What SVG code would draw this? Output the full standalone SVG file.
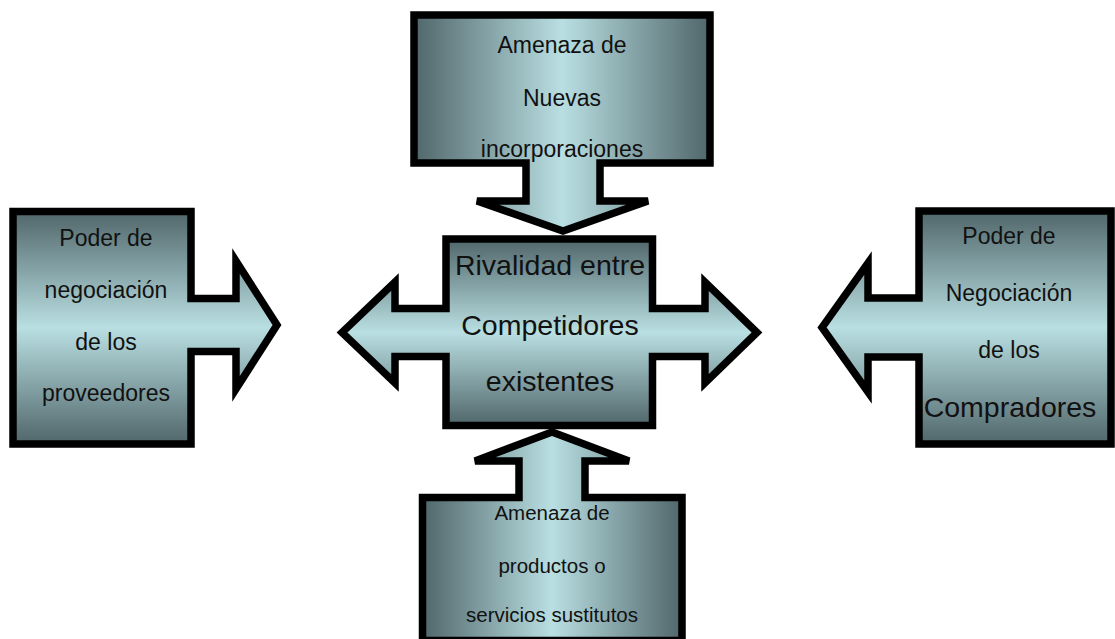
<svg xmlns="http://www.w3.org/2000/svg" width="1115" height="639" viewBox="0 0 1115 639">
  <defs>
    <linearGradient id="gH" x1="0" y1="0" x2="1" y2="0">
      <stop offset="0" stop-color="#50666a"/>
      <stop offset="0.5" stop-color="#b9dfe2"/>
      <stop offset="1" stop-color="#50666a"/>
    </linearGradient>
    <linearGradient id="gV" x1="0" y1="0" x2="0" y2="1">
      <stop offset="0" stop-color="#50666a"/>
      <stop offset="0.5" stop-color="#b9dfe2"/>
      <stop offset="1" stop-color="#50666a"/>
    </linearGradient>
    <style>
      .shape { stroke: #000; stroke-width: 7.5; stroke-linejoin: miter; }
      .h { fill: url(#gH); }
      .v { fill: url(#gV); }
      text { font-family: "Liberation Sans", Arial, sans-serif; fill: #111; text-anchor: middle; }
      .t23 { font-size: 23px; }
      .t28 { font-size: 28.5px; }
      .t20 { font-size: 20.5px; }
    </style>
  </defs>
  <g id="connectors"></g>
  <g id="nuevas">
    <path class="shape h" d="M414,15 H710 V163 H600 V201 H648 L563,231 L477,201 H526 V163 H414 Z"/>
    <text class="t23" x="562" y="53">Amenaza de</text>
    <text class="t23" x="562" y="106">Nuevas</text>
    <text class="t23" x="562" y="157">incorporaciones</text>
  </g>
  <g id="proveedores">
    <path class="shape v" d="M13,211.5 H191 V298.5 H236 V261 L277,325 L236,389 V351.5 H191 V444 H13 Z"/>
    <text class="t23" x="106" y="246">Poder de</text>
    <text class="t23" x="106" y="298">negociación</text>
    <text class="t23" x="106" y="350">de los</text>
    <text class="t23" x="106" y="401">proveedores</text>
  </g>
  <g id="rivalidad">
    <path class="shape v" d="M446,239 H652.5 V308.5 H705 V282 L757,332.5 L705,383 V356.5 H652.5 V425.5 H446 V356.5 H395 V383 L342,332.5 L395,282 V308.5 H446 Z"/>
    <text class="t28" x="550" y="275">Rivalidad entre</text>
    <text class="t28" x="550" y="335">Competidores</text>
    <text class="t28" x="550" y="391">existentes</text>
  </g>
  <g id="compradores">
    <path class="shape v" d="M919,211 H1111 V444 H919 V357 H868 V392 L822,327.5 L868,263 V298 H919 Z"/>
    <text class="t23" x="1009" y="244">Poder de</text>
    <text class="t23" x="1009" y="301">Negociación</text>
    <text class="t23" x="1009" y="358">de los</text>
    <text class="t28" x="1010" y="417">Compradores</text>
  </g>
  <g id="sustitutos">
    <path class="shape h" d="M422.5,497.5 H519 V461 H475 L552,432 L629,461 H585 V497.5 H682 V640.5 H422.5 Z"/>
    <text class="t20" x="552" y="520">Amenaza de</text>
    <text class="t20" x="552" y="573">productos o</text>
    <text class="t20" x="552" y="622">servicios sustitutos</text>
  </g>
</svg>
